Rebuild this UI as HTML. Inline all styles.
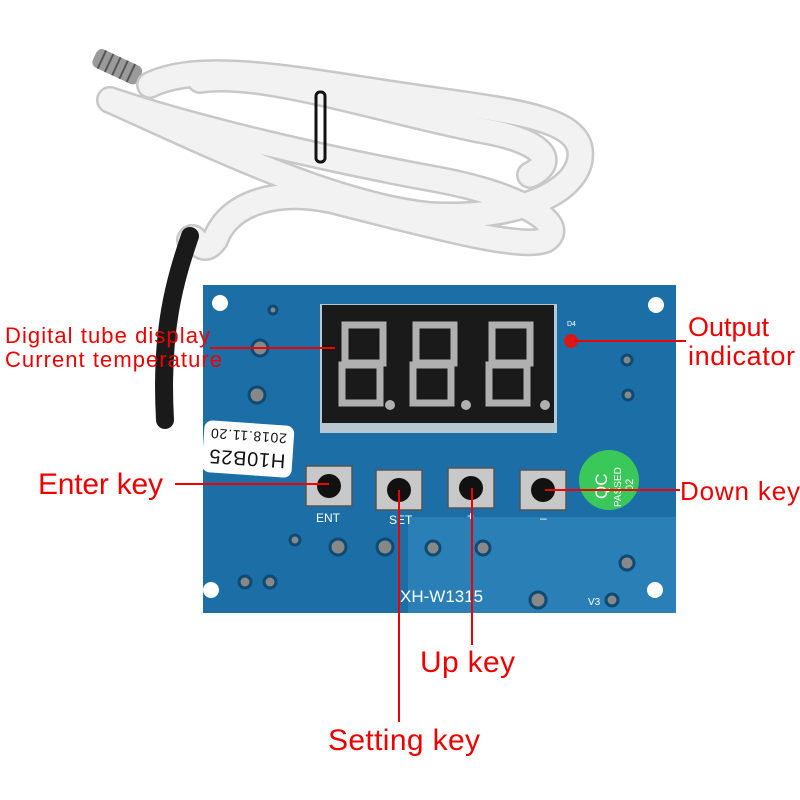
<!DOCTYPE html>
<html><head><style>body{margin:0;background:#fff}svg{display:block}text{font-family:"Liberation Sans",sans-serif}</style></head><body>
<svg width="800" height="800" viewBox="0 0 800 800">
<rect width="800" height="800" fill="#fff"/>
<g transform="rotate(25 120 68)">
<rect x="92" y="58" width="50" height="20" rx="6" fill="#9a9a9a"/>
<g stroke="#555" stroke-width="2"><line x1="100" y1="58" x2="100" y2="78"/><line x1="108" y1="58" x2="108" y2="78"/><line x1="116" y1="58" x2="116" y2="78"/><line x1="124" y1="58" x2="124" y2="78"/><line x1="132" y1="58" x2="132" y2="78"/></g>
</g>
<g fill="none" stroke-linecap="round">
<g stroke="#c8c8c8" stroke-width="28">
<path d="M150 85 C200 60 300 80 400 95 C500 110 575 115 580 150 C585 190 520 220 430 215 C330 205 200 140 110 100"/>
<path d="M110 100 C200 130 330 160 440 180 C520 195 570 225 545 240 C520 250 430 225 330 200 C280 190 230 200 215 240 C200 260 195 230 190 240"/>
<path d="M200 80 C260 70 380 110 480 130 C540 140 560 160 530 175"/>
</g>
<g stroke="#f2f2f2" stroke-width="23">
<path d="M150 85 C200 60 300 80 400 95 C500 110 575 115 580 150 C585 190 520 220 430 215 C330 205 200 140 110 100"/>
<path d="M110 100 C200 130 330 160 440 180 C520 195 570 225 545 240 C520 250 430 225 330 200 C280 190 230 200 215 240 C200 260 195 230 190 240"/>
<path d="M200 80 C260 70 380 110 480 130 C540 140 560 160 530 175"/>
</g>
</g>
<rect x="316" y="92" width="9" height="70" rx="4" fill="none" stroke="#111" stroke-width="3"/>
<path d="M190 236 C175 280 160 330 165 420" fill="none" stroke="#1a1a1a" stroke-width="18" stroke-linecap="round"/>
<rect x="203" y="285" width="473" height="328" fill="#1c6fa6"/>
<rect x="408" y="517" width="268" height="96" fill="#2a7fb6"/>
<g fill="#fff"><circle cx="220" cy="303" r="8"/><circle cx="656" cy="305" r="8"/><circle cx="211" cy="590" r="8"/><circle cx="655" cy="590" r="8"/></g>
<g fill="#888" stroke="#0d4b74" stroke-width="3"><circle cx="260" cy="348" r="8"/><circle cx="257" cy="395" r="8"/><circle cx="338" cy="547" r="8"/><circle cx="385" cy="547" r="8"/><circle cx="433" cy="548" r="7"/><circle cx="483" cy="548" r="7"/><circle cx="627" cy="563" r="7"/><circle cx="538" cy="600" r="8"/><circle cx="612" cy="600" r="6"/><circle cx="245" cy="582" r="6"/><circle cx="270" cy="582" r="6"/><circle cx="295" cy="540" r="5"/><circle cx="627" cy="360" r="5"/><circle cx="628" cy="395" r="5"/><circle cx="273" cy="310" r="4"/></g>
<rect x="320" y="304" width="237" height="129" fill="#b8c8d0"/>
<rect x="322" y="305" width="232" height="118" fill="#1a1a1a"/>
<g fill="none" stroke="#b0b0b0" stroke-width="7">
<path d="M345 325 h38 v38 h-38 z M342 365 h38 v38 h-38 z"/>
<path d="M416 325 h38 v38 h-38 z M413 365 h38 v38 h-38 z"/>
<path d="M492 325 h38 v38 h-38 z M489 365 h38 v38 h-38 z"/>
</g>
<g fill="#b0b0b0"><circle cx="390" cy="405" r="5"/><circle cx="466" cy="405" r="5"/><circle cx="545" cy="405" r="5"/></g>
<circle cx="571" cy="341" r="7" fill="#d81818"/>
<text x="567" y="326" font-size="7" fill="#fff">D4</text>
<g transform="rotate(184 248 449)">
<rect x="203" y="423" width="90" height="52" rx="8" fill="#fff"/>
<text x="210" y="446" font-size="20" fill="#111" textLength="76">H10B25</text>
<text x="210" y="467" font-size="14" fill="#111" textLength="76">2018.11.20</text>
</g>
<g fill="#c8c8c8" stroke="#555" stroke-width="1.5">
<rect x="306" y="466" width="46" height="40"/><rect x="376" y="470" width="46" height="40"/><rect x="448" y="468" width="46" height="40"/><rect x="520" y="470" width="46" height="40"/>
</g>
<g fill="#111"><circle cx="329" cy="486" r="12"/><circle cx="399" cy="490" r="12"/><circle cx="471" cy="488" r="12"/><circle cx="543" cy="490" r="12"/></g>
<g fill="#fff" font-size="12"><text x="316" y="522">ENT</text><text x="389" y="524">SET</text><text x="467" y="520">+</text><text x="540" y="522">–</text><text x="400" y="602" font-size="17">XH-W1315</text><text x="588" y="605" font-size="10">V3</text></g>
<circle cx="609" cy="480" r="30" fill="#3bc85a"/>
<g fill="#fff" transform="rotate(-90 609 480)"><text x="590" y="478" font-size="17">QC</text><text x="582" y="492" font-size="10">PASSED</text><text x="598" y="504" font-size="11">02</text></g>
<g stroke="#e00" stroke-width="2">
<line x1="210" y1="348" x2="335" y2="348"/><line x1="575" y1="341" x2="686" y2="341"/>
<line x1="175" y1="484" x2="329" y2="484"/><line x1="545" y1="490" x2="680" y2="490"/>
<line x1="399" y1="490" x2="399" y2="722"/><line x1="472" y1="488" x2="472" y2="645"/>
</g>
<g fill="#e00">
<text x="5" y="343" font-size="22" textLength="205">Digital tube display</text>
<text x="5" y="367" font-size="22" textLength="217">Current temperature</text>
<text x="688" y="336" font-size="27">Output</text>
<text x="688" y="365" font-size="27" textLength="107">indicator</text>
<text x="38" y="494" font-size="30" textLength="125">Enter key</text>
<text x="680" y="500" font-size="26" textLength="120">Down key</text>
<text x="420" y="672" font-size="30" textLength="95">Up key</text>
<text x="328" y="750" font-size="30" textLength="152">Setting key</text>
</g>
</svg>
</body></html>
